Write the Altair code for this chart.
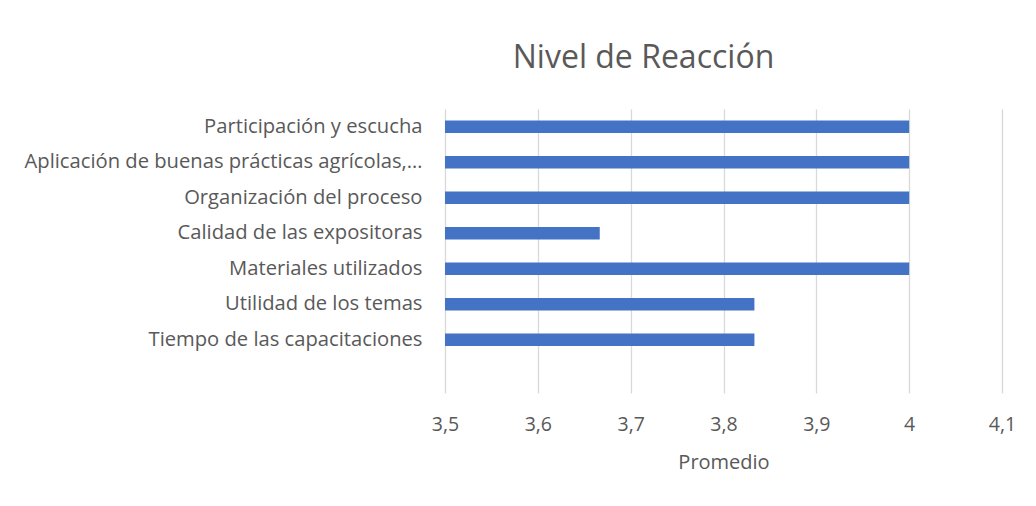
import altair as alt
import pandas as pd

categories = [
    "Participación y escucha",
    "Aplicación de buenas prácticas agrícolas,…",
    "Organización del proceso",
    "Calidad de las expositoras",
    "Materiales utilizados",
    "Utilidad de los temas",
    "Tiempo de las capacitaciones",
]
values = [4.0, 4.0, 4.0, 3.6667, 4.0, 3.8333, 3.8333]
x_ticks = [3.5, 3.6, 3.7, 3.8, 3.9, 4.0, 4.1]

df = pd.DataFrame({"cat": categories, "val": values})

FONT = "Open Sans"
GRAY = "#595959"

chart = alt.Chart(df).mark_bar(color="#4472C4").encode(
    x=alt.X(
        "val:Q",
        scale=alt.Scale(domain=[3.5, 4.1], nice=False, zero=False, clamp=True),
        axis=alt.Axis(
            values=x_ticks,
            title="Promedio",
            labelExpr="replace(format(datum.value, '.1~f'), '.', ',')",
            grid=True,
            gridColor="#d9d9d9",
            gridWidth=1.3,
            domain=False,
            ticks=False,
            labelFlush=False,
            labelPadding=22,
            labelFontSize=19.5,
            labelColor=GRAY,
            labelFont=FONT,
            titleFont=FONT,
            titleFontSize=20,
            titleColor=GRAY,
            titleFontWeight="normal",
            titlePadding=19,
        ),
    ),
    y=alt.Y(
        "cat:N",
        sort=categories,
        scale=alt.Scale(domain=categories + [" "], paddingInner=0.645, paddingOuter=0.3225),
        axis=alt.Axis(
            title=None,
            domain=False,
            ticks=False,
            grid=False,
            labelPadding=23,
            labelFontSize=20.2,
            labelColor=GRAY,
            labelFont=FONT,
            labelLimit=500,
        ),
    ),
).properties(
    width=557,
    height=284,
    title=alt.TitleParams(
        "Nivel de Reacción",
        font=FONT,
        fontSize=32,
        fontWeight="normal",
        color=GRAY,
        anchor="middle",
        frame="group",
        dx=-80,
        offset=34,
    ),
    autosize=alt.AutoSizeParams(type="none"),
    padding={"left": 437, "top": 101, "right": 20, "bottom": 90},
).configure_view(stroke=None)

chart.save("out.html", embed_options={"renderer": "svg", "actions": False})
